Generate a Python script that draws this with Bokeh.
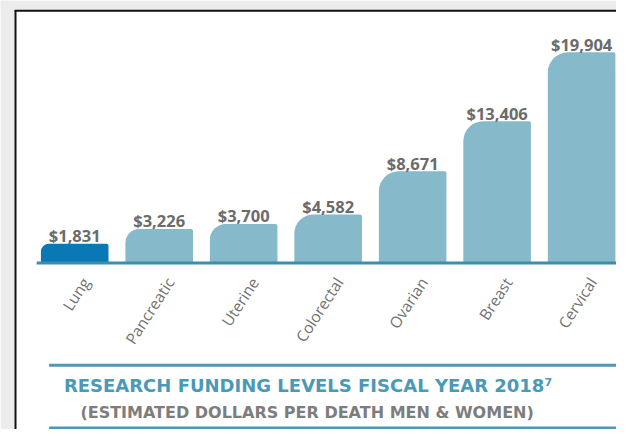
import numpy as np
from bokeh.plotting import figure
from bokeh.models import Range1d
from bokeh.core.properties import value
from bokeh.embed import file_html
from bokeh.resources import INLINE

# ---------------- data ----------------
categories = ["Lung", "Pancreatic", "Uterine", "Colorectal", "Ovarian", "Breast", "Cervical"]
dollars = [1831, 3226, 3700, 4582, 8671, 13406, 19904]
value_labels = ["$1,831", "$3,226", "$3,700", "$4,582", "$8,671", "$13,406", "$19,904"]
title_text = "RESEARCH FUNDING LEVELS FISCAL YEAR 2018\u2077"
subtitle_text = "(ESTIMATED DOLLARS PER DEATH MEN & WOMEN)"

# ---------------- styles ----------------
bar_colors = ["#0a78b5", "#86b9ca", "#86b9ca", "#86b9ca", "#86b9ca", "#86b9ca", "#86b9ca"]
TEAL = "#4a99b6"
RULE = "#4f97b4"
BASELINE = "#3f8cab"
GRAY_TXT = "#727272"
SUB_TXT = "#7d7d7d"
VAL_TXT = "#6b6b6b"

# ---------------- layout (figure pixels) ----------------
W, H = 616, 429
BOX_L, BOX_T = 15.0, 10.3          # box border position
KX = (614.0 - BOX_L) / (621.0 - BOX_L)   # slight compression so the page fits
KY = (427.5 - BOX_T) / (436.0 - BOX_T)


def PX(x):
    return BOX_L + (x - BOX_L) * KX


def PY(y):
    return BOX_T + (y - BOX_T) * KY


X0_PX = PX(74.9)          # centre of the first bar
STEP_PX = 85.47 * KX      # distance between bar centres
BASE_PX = PY(267.7)       # baseline
TOP_PX = PY(52.7)         # top of the tallest bar

n = len(categories)
xs = list(range(n))
ux = 1.0 / STEP_PX
x_start = -X0_PX * ux
x_end = x_start + W * ux
uy = max(dollars) / (BASE_PX - TOP_PX)
y_end = BASE_PX * uy
y_start = y_end - H * uy


def X(px):
    return x_start + px * ux


def Y(py):
    return y_end - py * uy


p = figure(width=W, height=H, x_range=Range1d(x_start, x_end), y_range=Range1d(y_start, y_end),
           output_backend="svg", toolbar_location=None, tools="", min_border=0,
           x_axis_location=None, y_axis_location=None)
p.xgrid.visible = False
p.ygrid.visible = False
p.outline_line_color = None
p.background_fill_color = "white"
p.border_fill_color = "white"

# page background strips and box border
p.quad(left=[X(0)], right=[X(BOX_L - 1)], top=[Y(0)], bottom=[Y(H)], fill_color="#ececec", line_color=None)
p.quad(left=[X(0)], right=[X(W)], top=[Y(0)], bottom=[Y(BOX_T - 1)], fill_color="#ececec", line_color=None)
p.segment(x0=[X(BOX_L)], y0=[Y(BOX_T)], x1=[X(BOX_L)], y1=[Y(H)], line_width=2, line_color="#111111")
p.segment(x0=[X(BOX_L - 1)], y0=[Y(BOX_T)], x1=[X(W)], y1=[Y(BOX_T)], line_width=2, line_color="#111111")

# bars
for i in range(n):
    h_px = dollars[i] / uy
    r = int(round(min(20.0, 0.4 * h_px)))
    p.vbar(x=[xs[i]], top=[dollars[i]], bottom=0, width=0.8, fill_color=bar_colors[i],
           line_color=None, border_radius=(r, 2, 0, 0))

# baseline
p.segment(x0=[-0.45], y0=[0], x1=[n - 1 + 0.55], y1=[0], line_width=3, line_color=BASELINE)

# value labels
p.text(x=xs, y=[v + 8 * uy for v in dollars], text=value_labels, text_align="center",
       text_baseline="alphabetic", text_font=value("Open Sans"), text_font_style="bold",
       text_font_size="16.5px", text_color=VAL_TXT)

# category labels
p.text(x=[x + 11 * ux for x in xs], y=[-16 * uy] * n, text=categories, angle=np.deg2rad(57),
       text_align="right", text_baseline="middle", text_font=value("Open Sans"),
       text_font_size="15.5px", text_color=GRAY_TXT)

# title block
p.segment(x0=[X(PX(49))], y0=[Y(PY(372))], x1=[X(W)], y1=[Y(PY(372))], line_width=3, line_color=RULE)
p.segment(x0=[X(PX(49))], y0=[Y(427.5)], x1=[X(W)], y1=[Y(427.5)], line_width=3, line_color=RULE)
p.text(x=[X(PX(311))], y=[Y(PY(393))], text=[title_text], text_align="center",
       text_baseline="alphabetic", text_font=value("DejaVu Sans"), text_font_style="bold",
       text_font_size="18px", text_color=TEAL)
p.text(x=[X(PX(310))], y=[Y(PY(420.5))], text=[subtitle_text], text_align="center",
       text_baseline="alphabetic", text_font=value("DejaVu Sans"), text_font_style="bold",
       text_font_size="16px", text_color=SUB_TXT)

open("out.html", "w").write(file_html(p, INLINE))
